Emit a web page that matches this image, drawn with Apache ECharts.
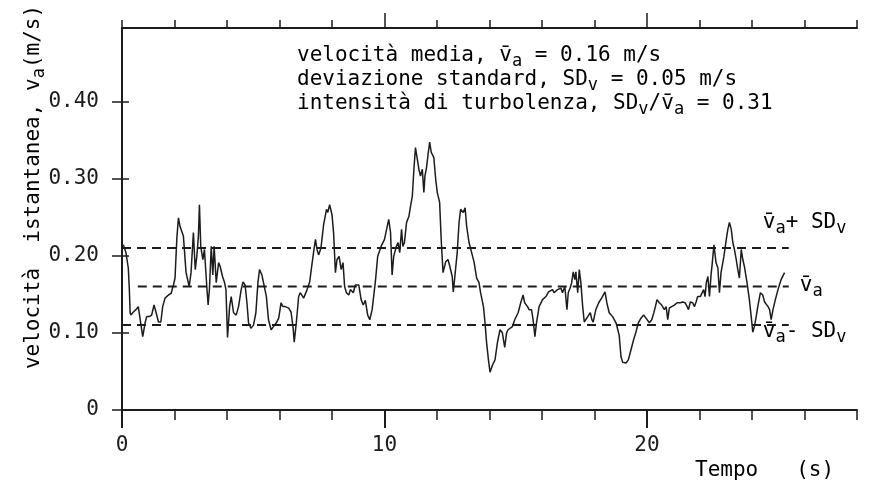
<!DOCTYPE html>
<html>
<head>
<meta charset="utf-8">
<script src="https://cdn.jsdelivr.net/npm/echarts@6/dist/echarts.min.js"></script>
<style>
  html, body { margin: 0; padding: 0; background: #fff; }
  #chart { width: 874px; height: 485px; }
</style>
</head>
<body>
<div id="chart"></div>
<script>
// Instantaneous velocity record, v_a (m/s) against time (s)
const tempo = [
  0.05,0.15,0.24,0.28,0.31,0.34,0.43,0.53,0.62,0.69,
  0.79,0.88,0.94,1.04,1.13,1.22,1.30,1.39,1.48,1.55,
  1.64,1.77,1.87,1.96,2.02,2.09,2.15,2.21,2.28,2.34,
  2.44,2.56,2.63,2.72,2.79,2.85,2.91,2.95,3.00,3.08,
  3.14,3.23,3.28,3.33,3.40,3.46,3.51,3.59,3.68,3.74,
  3.83,3.90,3.96,4.02,4.10,4.16,4.25,4.35,4.44,4.54,
  4.61,4.69,4.76,4.82,4.91,5.01,5.10,5.18,5.24,5.33,
  5.39,5.50,5.58,5.68,5.77,5.88,5.97,6.06,6.13,6.22,
  6.35,6.44,6.52,6.56,6.64,6.73,6.79,6.86,6.92,7.05,
  7.15,7.21,7.30,7.37,7.43,7.49,7.58,7.68,7.79,7.84,
  7.91,8.00,8.06,8.13,8.19,8.27,8.35,8.42,8.48,8.55,
  8.64,8.70,8.81,8.89,9.02,9.11,9.19,9.27,9.36,9.44,
  9.53,9.66,9.74,9.87,10.00,10.16,10.23,10.29,10.35,10.45,
  10.52,10.58,10.65,10.70,10.76,10.84,10.93,10.99,11.06,11.12,
  11.18,11.25,11.31,11.37,11.44,11.50,11.54,11.60,11.67,11.72,
  11.78,11.88,11.95,12.01,12.10,12.16,12.23,12.33,12.42,12.49,
  12.58,12.62,12.68,12.77,12.84,12.90,13.00,13.07,13.13,13.22,
  13.32,13.41,13.51,13.60,13.66,13.77,13.83,13.89,13.96,14.02,
  14.11,14.21,14.30,14.40,14.49,14.58,14.65,14.71,14.87,14.96,
  15.09,15.19,15.28,15.34,15.45,15.51,15.60,15.66,15.73,15.79,
  15.89,16.02,16.15,16.25,16.31,16.40,16.46,16.59,16.72,16.78,
  16.87,16.95,17.00,17.07,17.13,17.19,17.25,17.29,17.36,17.42,
  17.48,17.55,17.61,17.74,17.84,17.90,17.95,18.05,18.16,18.27,
  18.40,18.47,18.56,18.69,18.82,18.94,19.01,19.07,19.20,19.29,
  19.39,19.49,19.58,19.67,19.77,19.87,19.96,20.09,20.18,20.26,
  20.32,20.38,20.47,20.56,20.66,20.73,20.79,20.85,20.94,21.04,
  21.15,21.27,21.36,21.45,21.53,21.58,21.65,21.74,21.81,21.87,
  21.93,22.03,22.09,22.16,22.21,22.26,22.32,22.38,22.44,22.48,
  22.55,22.63,22.70,22.76,22.82,22.93,23.02,23.08,23.14,23.21,
  23.27,23.33,23.40,23.46,23.52,23.59,23.65,23.71,23.81,23.90,
  23.97,24.03,24.09,24.16,24.22,24.32,24.41,24.48,24.54,24.61,
  24.67,24.73,24.80,24.89,24.99,25.11,25.24
];
const velocita = [
  0.214,0.204,0.184,0.156,0.126,0.123,0.127,0.130,0.134,0.136,
  0.095,0.113,0.121,0.121,0.123,0.136,0.126,0.114,0.114,0.134,
  0.145,0.149,0.151,0.162,0.171,0.223,0.249,0.238,0.240,0.225,
  0.178,0.160,0.178,0.230,0.182,0.199,0.225,0.266,0.212,0.195,
  0.208,0.160,0.136,0.156,0.212,0.175,0.212,0.165,0.191,0.186,
  0.173,0.166,0.156,0.094,0.134,0.147,0.126,0.123,0.134,0.156,
  0.166,0.162,0.139,0.113,0.106,0.110,0.126,0.166,0.182,0.175,
  0.173,0.147,0.117,0.104,0.108,0.113,0.119,0.139,0.134,0.134,
  0.132,0.127,0.106,0.088,0.113,0.147,0.152,0.152,0.145,0.156,
  0.166,0.182,0.205,0.221,0.208,0.201,0.210,0.240,0.260,0.256,
  0.266,0.253,0.230,0.178,0.195,0.199,0.182,0.191,0.160,0.152,
  0.149,0.156,0.152,0.162,0.162,0.143,0.136,0.142,0.123,0.117,
  0.130,0.169,0.199,0.212,0.221,0.247,0.230,0.175,0.199,0.212,
  0.217,0.204,0.234,0.212,0.217,0.243,0.251,0.264,0.277,0.312,
  0.340,0.325,0.312,0.303,0.312,0.282,0.303,0.314,0.334,0.347,
  0.334,0.327,0.299,0.282,0.269,0.221,0.178,0.192,0.195,0.186,
  0.173,0.153,0.173,0.204,0.243,0.260,0.256,0.262,0.238,0.217,
  0.204,0.192,0.171,0.165,0.152,0.134,0.113,0.087,0.065,0.049,
  0.058,0.065,0.087,0.104,0.100,0.081,0.100,0.104,0.108,0.117,
  0.126,0.139,0.149,0.139,0.134,0.130,0.130,0.117,0.095,0.113,
  0.134,0.143,0.147,0.153,0.152,0.156,0.152,0.156,0.158,0.152,
  0.160,0.130,0.152,0.158,0.165,0.179,0.169,0.179,0.152,0.182,
  0.165,0.134,0.114,0.121,0.126,0.117,0.114,0.130,0.139,0.145,
  0.153,0.139,0.126,0.121,0.113,0.097,0.069,0.062,0.061,0.065,
  0.078,0.091,0.101,0.113,0.119,0.123,0.119,0.113,0.117,0.126,
  0.134,0.143,0.139,0.136,0.130,0.134,0.117,0.132,0.134,0.136,
  0.139,0.139,0.140,0.139,0.134,0.130,0.140,0.139,0.134,0.140,
  0.147,0.147,0.149,0.156,0.147,0.165,0.173,0.147,0.175,0.188,
  0.214,0.191,0.184,0.152,0.178,0.199,0.221,0.234,0.243,0.234,
  0.217,0.208,0.195,0.182,0.171,0.208,0.195,0.186,0.165,0.143,
  0.121,0.101,0.108,0.121,0.134,0.152,0.149,0.140,0.139,0.134,
  0.130,0.117,0.130,0.143,0.156,0.169,0.178
];

// Summary statistics of the record
const mediaVa = 0.16;        // mean velocity (m/s)
const devStd = 0.05;         // standard deviation (m/s)
const intensita = 0.31;      // turbulence intensity SD/mean

// Reference levels: [start time, end time, level]
const livelli = [
  { nome: 'sup', da: 0, a: 25.4, v: +(mediaVa + devStd).toFixed(2) },
  { nome: 'med', da: 0.6, a: 25.4, v: mediaVa },
  { nome: 'inf', da: 0, a: 25.4, v: +(mediaVa - devStd).toFixed(2) }
];

// Axis ticks and labels
const xMax = 28;
const xTickMinor = 2;
const xLabelValues = [0, 10, 20];
const yMax = 0.495;
const yLabelValues = [0, 0.1, 0.2, 0.3, 0.4];
const yTickRight = [0.1, 0.2, 0.3, 0.4];

const FONT = '"DejaVu Sans Mono", "Liberation Mono", monospace';
const INK = '#1c1c1c';
const rich = {
  m: { fontFamily: FONT, fontSize: 21, color: INK, lineHeight: 24 },
  s: { fontFamily: FONT, fontSize: 17, color: INK, lineHeight: 24, padding: [12, 0, 0, 0] }
};

const chart = echarts.init(document.getElementById('chart'), null, { renderer: 'canvas' });

const baseX = {
  type: 'value', min: 0, max: xMax, interval: xTickMinor,
  splitLine: { show: false },
  axisLabel: { show: false }
};
const baseY = {
  type: 'value', min: 0, max: yMax, interval: 0.1,
  splitLine: { show: false }
};

const serieData = tempo.map((t, i) => [t, velocita[i]]);

const option = {
  backgroundColor: '#ffffff',
  animation: false,
  grid: { left: 122, right: 17, top: 28, bottom: 75, containLabel: false },
  xAxis: [
    Object.assign({}, baseX, {
      position: 'bottom',
      axisLine: { show: true, lineStyle: { color: INK, width: 2 } },
      axisTick: { show: true, length: 10, lineStyle: { color: INK, width: 1.5 } }
    }),
    Object.assign({}, baseX, {
      position: 'bottom',
      axisLine: { show: false },
      axisTick: { show: true, length: 18, customValues: xLabelValues, lineStyle: { color: INK, width: 2 } },
      axisLabel: {
        show: true, customValues: xLabelValues, margin: 25,
        fontFamily: FONT, fontSize: 21, color: INK,
        formatter: v => String(v)
      }
    }),
    Object.assign({}, baseX, {
      position: 'top',
      axisLine: { show: true, lineStyle: { color: INK, width: 2 } },
      axisTick: { show: true, length: 8, lineStyle: { color: INK, width: 1.5 } }
    }),
    Object.assign({}, baseX, {
      position: 'top',
      axisLine: { show: false },
      axisTick: { show: true, length: 15, customValues: [10, 20], lineStyle: { color: INK, width: 1.5 } }
    })
  ],
  yAxis: [
    Object.assign({}, baseY, {
      position: 'left',
      axisLine: { show: true, lineStyle: { color: INK, width: 2 } },
      axisTick: { show: true, length: 10, customValues: yLabelValues, lineStyle: { color: INK, width: 1.5 } },
      axisLabel: {
        show: true, customValues: yLabelValues, margin: 23,
        fontFamily: FONT, fontSize: 21, color: INK,
        formatter: v => (v === 0 ? '0' : v.toFixed(2))
      }
    }),
    Object.assign({}, baseY, {
      position: 'right',
      axisLine: { show: true, lineStyle: { color: INK, width: 2 } },
      axisTick: { show: true, length: 7, customValues: yTickRight, lineStyle: { color: INK, width: 1.5 } },
      axisLabel: { show: false }
    })
  ],
  series: [
    {
      type: 'line', name: 'va', xAxisIndex: 0, yAxisIndex: 0,
      data: serieData, showSymbol: false, symbol: 'none',
      lineStyle: { color: INK, width: 1.5 },
      z: 3
    }
  ].concat(livelli.map(l => ({
    type: 'line', name: l.nome, xAxisIndex: 0, yAxisIndex: 0,
    data: [[l.da, l.v], [l.a, l.v]], showSymbol: false, symbol: 'none',
    lineStyle: { color: INK, width: 2, type: [9, 6] },
    z: 2
  })))
};
chart.setOption(option);

// Text annotations
const fmt = x => x.toFixed(2);
const righe = [
  '{m|velocità media, v̄}{s|a}{m| = ' + fmt(mediaVa) + ' m/s}',
  '{m|deviazione standard, SD}{s|v}{m| = ' + fmt(devStd) + ' m/s}',
  '{m|intensità di turbolenza, SD}{s|v}{m|/v̄}{s|a}{m| = ' + fmt(intensita) + '}'
].join('\n');

const px = (t, v) => chart.convertToPixel({ gridIndex: 0 }, [t, v]);
const pSup = px(livelli[0].a, livelli[0].v);
const pMed = px(livelli[1].a, livelli[1].v);
const pInf = px(livelli[2].a, livelli[2].v);

chart.setOption({
  graphic: [
    {
      type: 'text', x: 297, y: 44,
      style: { text: righe, rich: rich, align: 'left', verticalAlign: 'top' }
    },
    {
      type: 'text', x: 34, y: 187, rotation: Math.PI / 2,
      style: { text: '{m|velocità  istantanea, v}{s|a}{m|(m/s)}', rich: rich, align: 'center', verticalAlign: 'middle' }
    },
    {
      type: 'text', x: 695, y: 459,
      style: { text: '{m|Tempo   (s)}', rich: rich, align: 'left', verticalAlign: 'top' }
    },
    {
      type: 'text', x: pSup[0] - 26, y: pSup[1] - 25,
      style: { text: '{m|v̄}{s|a}{m|+ SD}{s|v}', rich: rich, align: 'left', verticalAlign: 'middle' }
    },
    {
      type: 'text', x: pMed[0] + 11, y: pMed[1] - 1,
      style: { text: '{m|v̄}{s|a}', rich: rich, align: 'left', verticalAlign: 'middle' }
    },
    {
      type: 'text', x: pInf[0] - 26, y: pInf[1] + 6,
      style: { text: '{m|v̄}{s|a}{m|- SD}{s|v}', rich: rich, align: 'left', verticalAlign: 'middle' }
    }
  ]
});
</script>
</body>
</html>
